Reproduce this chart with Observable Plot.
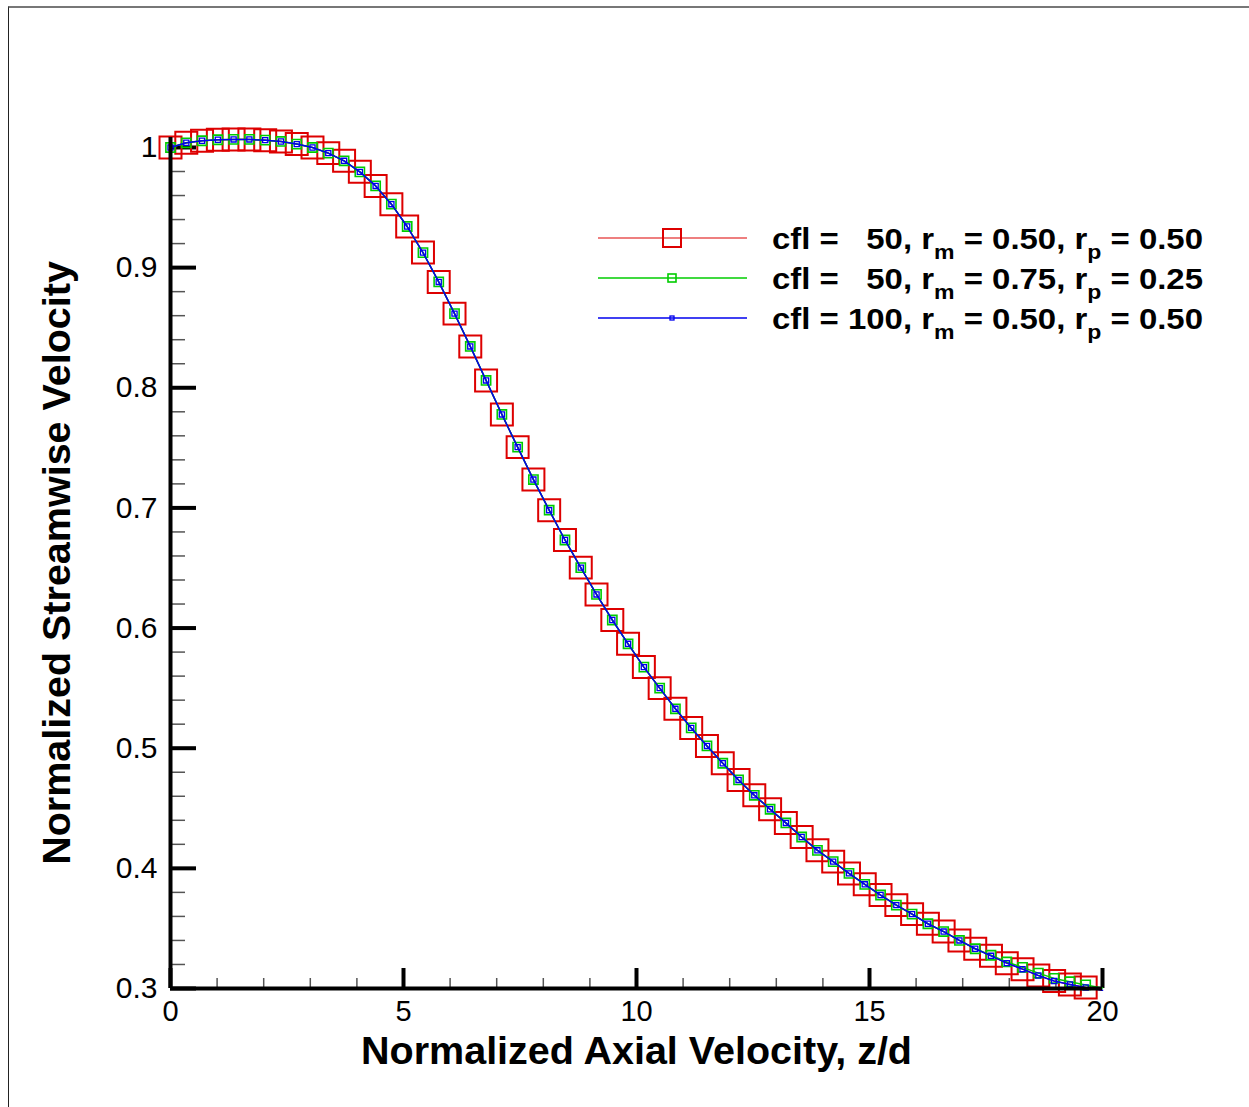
<!DOCTYPE html>
<html><head><meta charset="utf-8">
<script src="https://cdn.jsdelivr.net/npm/d3@7"></script>
<script src="https://cdn.jsdelivr.net/npm/@observablehq/plot@0.6"></script>
<style>
body{margin:0;background:#fff;}
#wrap{position:relative;width:1249px;height:1107px;overflow:hidden;font-family:"Liberation Sans",Arial,sans-serif;}
#border{position:absolute;left:8px;top:6px;width:1241px;height:1101px;border-left:1.5px solid #222;border-top:2px solid #777;box-sizing:border-box;}
#chart{position:absolute;left:0;top:0;}
#legend{position:absolute;left:0;top:0;}
</style></head>
<body>
<div id="wrap"><div id="border"></div><div id="chart"></div><svg id="legend" width="1249" height="400"></svg></div>
<script>
// ---- data ----
const zd = [0, 0.339, 0.677, 1.016, 1.354, 1.693, 2.032, 2.370, 2.709, 3.047, 3.386, 3.725, 4.063, 4.402, 4.740, 5.079, 5.418, 5.756, 6.095, 6.433, 6.772, 7.111, 7.449, 7.788, 8.126, 8.465, 8.804, 9.142, 9.481, 9.819, 10.158, 10.497, 10.835, 11.174, 11.512, 11.851, 12.190, 12.528, 12.867, 13.205, 13.544, 13.883, 14.221, 14.560, 14.898, 15.237, 15.576, 15.914, 16.253, 16.591, 16.930, 17.269, 17.607, 17.946, 18.284, 18.623, 18.962, 19.300, 19.639, 20];
const uCfl50rm50 = [1.000, 1.0039, 1.0056, 1.0064, 1.0067, 1.0067, 1.0061, 1.0050, 1.0028, 1.0000, 0.9953, 0.9889, 0.9797, 0.9680, 0.9528, 0.9342, 0.9125, 0.8881, 0.8617, 0.8344, 0.8061, 0.7778, 0.7506, 0.7236, 0.6981, 0.6733, 0.6503, 0.6280, 0.6067, 0.5869, 0.5675, 0.5500, 0.5328, 0.5169, 0.5019, 0.4875, 0.4736, 0.4608, 0.4492, 0.4378, 0.4261, 0.4150, 0.4056, 0.3958, 0.3867, 0.3778, 0.3694, 0.3619, 0.3539, 0.3474, 0.3400, 0.3331, 0.3272, 0.3211, 0.3161, 0.3108, 0.3062, 0.3034, 0.3008, 0.2985];
const uCfl50rm75 = [1.000, 1.0039, 1.0056, 1.0064, 1.0067, 1.0067, 1.0061, 1.0050, 1.0028, 1.0000, 0.9953, 0.9889, 0.9797, 0.9680, 0.9528, 0.9342, 0.9125, 0.8881, 0.8617, 0.8344, 0.8061, 0.7778, 0.7506, 0.7236, 0.6981, 0.6733, 0.6503, 0.6280, 0.6067, 0.5869, 0.5675, 0.5500, 0.5328, 0.5169, 0.5019, 0.4875, 0.4736, 0.4608, 0.4492, 0.4378, 0.4261, 0.4150, 0.4056, 0.3958, 0.3867, 0.3778, 0.3694, 0.3619, 0.3539, 0.3474, 0.3400, 0.3331, 0.3277, 0.3221, 0.3176, 0.3128, 0.3084, 0.3056, 0.3030, 0.3005];
const uCfl100rm50 = [1.000, 1.0039, 1.0056, 1.0064, 1.0067, 1.0067, 1.0061, 1.0050, 1.0028, 1.0000, 0.9953, 0.9889, 0.9797, 0.9680, 0.9528, 0.9342, 0.9125, 0.8881, 0.8617, 0.8344, 0.8061, 0.7778, 0.7506, 0.7236, 0.6981, 0.6733, 0.6503, 0.6280, 0.6067, 0.5869, 0.5675, 0.5500, 0.5328, 0.5169, 0.5019, 0.4875, 0.4736, 0.4608, 0.4492, 0.4378, 0.4261, 0.4150, 0.4056, 0.3958, 0.3867, 0.3778, 0.3694, 0.3619, 0.3539, 0.3474, 0.3400, 0.3331, 0.3272, 0.3211, 0.3161, 0.3108, 0.3062, 0.3034, 0.3008, 0.2985];
const seriesNames = ["cfl = 50, rm = 0.50, rp = 0.50", "cfl = 50, rm = 0.75, rp = 0.25", "cfl = 100, rm = 0.50, rp = 0.50"];
const legendCfl = ["  50", "  50", "100"];
const legendRm = ["0.50", "0.75", "0.50"];
const legendRp = ["0.50", "0.25", "0.50"];
const xMajor = [0, 5, 10, 15, 20];
const xMinor = [1, 2, 3, 4, 6, 7, 8, 9, 11, 12, 13, 14, 16, 17, 18, 19];
const yMajor = [0.3, 0.4, 0.5, 0.6, 0.7, 0.8, 0.9, 1];
const yMinor = [0.32, 0.34, 0.36, 0.38, 0.42, 0.44, 0.46, 0.48, 0.52, 0.54, 0.56, 0.58, 0.62, 0.64, 0.66, 0.68, 0.72, 0.74, 0.76, 0.78, 0.82, 0.84, 0.86, 0.88, 0.92, 0.94, 0.96, 0.98];
const xTitle = "Normalized Axial Velocity, z/d";
const yTitle = "Normalized Streamwise Velocity";

// ---- styles ----
const colors = ["#dd0000", "#00cc00", "#0000ee"];
const lineW = [1.2, 1.5, 1.5];
const markR = [12.4, 5.2, 2.9];
const markW = [2, 1.6, 1.3];
const legMark = [18, 8, 4];

const seriesValues = [uCfl50rm50, uCfl50rm75, uCfl100rm50];
const rowsOf = vals => zd.map((z, i) => ({z, u: vals[i], marker: i < zd.length - 1}));

const marks = [];
seriesValues.forEach((vals, k) => {
  const rows = rowsOf(vals);
  marks.push(Plot.line(rows, {x: "z", y: "u", stroke: colors[k], strokeWidth: lineW[k]}));
  marks.push(Plot.dot(rows.filter(d => d.marker), {x: "z", y: "u", symbol: "square", r: markR[k], stroke: colors[k], strokeWidth: markW[k], fill: "none"}));
});

const chart = Plot.plot({
  width: 1249, height: 1107,
  marginLeft: 170, marginRight: 147, marginTop: 137, marginBottom: 119,
  x: {domain: [0, 20]},
  y: {domain: [0.3, 1.0083]},
  style: {fontFamily: "'Liberation Sans', Arial, sans-serif", background: "transparent", overflow: "visible", color: "#000"},
  marks: [
    Plot.axisX({ticks: xMinor, tickSize: -10, stroke: "#555", strokeWidth: 1.5, fill: "none", label: null}),
    Plot.axisY({ticks: yMinor, tickSize: -15, stroke: "#555", strokeWidth: 1.5, fill: "none", label: null}),
    Plot.axisX({ticks: xMajor, tickSize: -20, strokeWidth: 4, fill: "none", label: null}),
    Plot.axisY({ticks: yMajor, tickSize: -26, strokeWidth: 4, fill: "none", label: null}),
    Plot.axisX({ticks: xMajor, tickSize: 0, tickPadding: 12, fontSize: 29, label: null, tickFormat: d => String(d)}),
    Plot.axisY({ticks: yMajor, tickSize: 0, tickPadding: 13, fontSize: 30, label: null, tickFormat: d => d === 1 ? "1" : d.toFixed(1)}),
    ...marks,
    Plot.ruleX([0], {strokeWidth: 4}),
    Plot.ruleY([0.3], {strokeWidth: 4}),
    Plot.text([xTitle], {text: d => d, frameAnchor: "bottom", lineAnchor: "middle", textAnchor: "middle", dy: 63, fontSize: 39.5, fontWeight: "bold"}),
    Plot.text([yTitle], {text: d => d, frameAnchor: "left", lineAnchor: "middle", textAnchor: "middle", dx: -113, rotate: -90, fontSize: 39.5, fontWeight: "bold"})
  ]
});
document.getElementById("chart").appendChild(chart);

// ---- legend ----
const leg = d3.select("#legend");
const rowY = [238, 278, 318];
seriesNames.forEach((name, k) => {
  const y = rowY[k];
  leg.append("line").attr("x1", 598).attr("x2", 747).attr("y1", y).attr("y2", y)
    .attr("stroke", colors[k]).attr("stroke-width", lineW[k]);
  const s = legMark[k];
  leg.append("rect").attr("x", 672 - s / 2).attr("y", y - s / 2).attr("width", s).attr("height", s)
    .attr("fill", "none").attr("stroke", colors[k]).attr("stroke-width", markW[k]);
  const t = leg.append("text").attr("x", 772).attr("y", y + 10.5)
    .attr("font-family", "'Liberation Sans', Arial, sans-serif").attr("font-weight", "bold")
    .attr("font-size", 30).style("white-space", "pre").attr("textLength", 431).attr("lengthAdjust", "spacingAndGlyphs");
  t.append("tspan").text(`cfl = ${legendCfl[k]}, r`);
  t.append("tspan").attr("font-size", 21).attr("dy", 10).text("m");
  t.append("tspan").attr("dy", -10).text(` = ${legendRm[k]}, r`);
  t.append("tspan").attr("font-size", 21).attr("dy", 10).text("p");
  t.append("tspan").attr("dy", -10).text(` = ${legendRp[k]}`);
});
</script>
</body></html>
